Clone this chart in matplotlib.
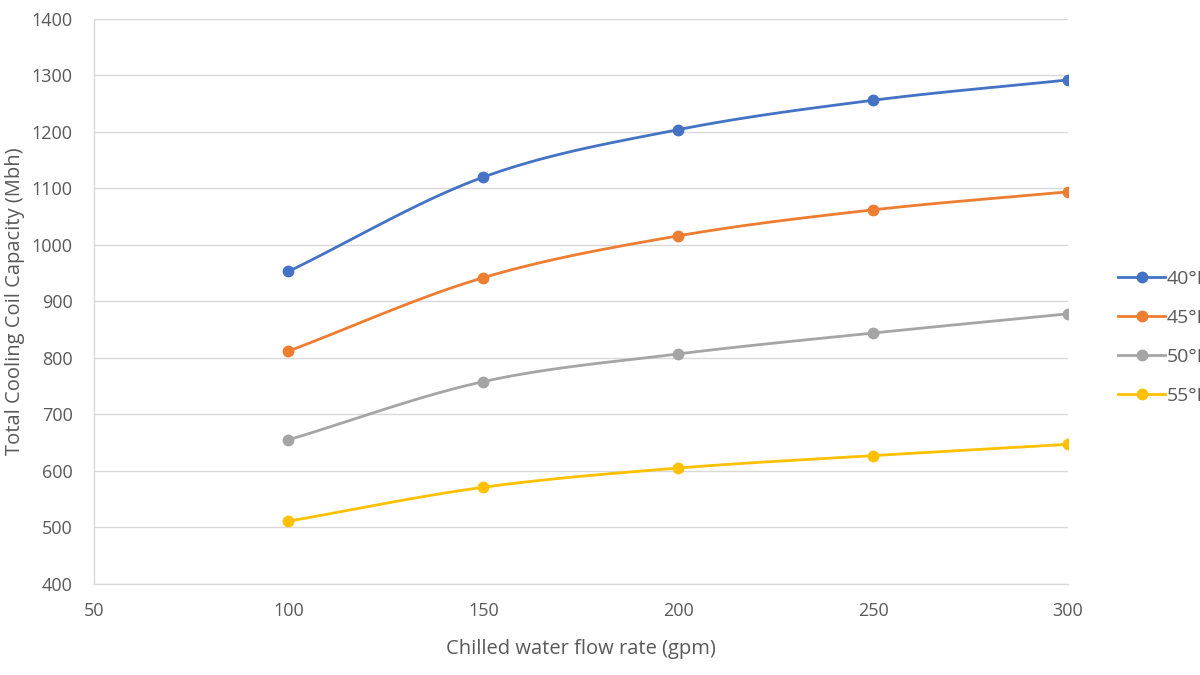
import numpy as np
import matplotlib
matplotlib.use("Agg")
import matplotlib.pyplot as plt
from matplotlib.lines import Line2D

flow = [100, 150, 200, 250, 300]
labels = ["40°F", "45°F", "50°F", "55°F"]
cap_40 = [953, 1120, 1204, 1256, 1292]
cap_45 = [812, 942, 1016, 1062, 1094]
cap_50 = [655, 758, 807, 844, 878]
cap_55 = [511, 571, 605, 627, 647]
series = [cap_40, cap_45, cap_50, cap_55]
colors = ["#4472C4", "#ED7D31", "#A5A5A5", "#FFC000"]

plt.rcParams['font.family'] = ['Open Sans', 'DejaVu Sans']

def smooth(x, y, n=30):
    # Catmull-Rom spline through points (Excel-like smoothed line)
    x = np.asarray(x, float); y = np.asarray(y, float)
    px = np.concatenate([[2*x[0]-x[1]], x, [2*x[-1]-x[-2]]])
    py = np.concatenate([[2*y[0]-y[1]], y, [2*y[-1]-y[-2]]])
    xs, ys = [], []
    t = np.linspace(0, 1, n)
    for i in range(1, len(px)-2):
        for arr, out in ((px, xs), (py, ys)):
            p0, p1, p2, p3 = arr[i-1], arr[i], arr[i+1], arr[i+2]
            out.extend(0.5*((2*p1) + (-p0+p2)*t + (2*p0-5*p1+4*p2-p3)*t**2 + (-p0+3*p1-3*p2+p3)*t**3))
    return np.array(xs), np.array(ys)

fig = plt.figure(figsize=(12, 6.75), dpi=100)
ax = fig.add_axes([0.078, 0.135, 0.812, 0.837])

handles = []
for ys, c, lab in zip(series, colors, labels):
    sx, sy = smooth(flow, ys)
    ax.plot(sx, sy, color=c, lw=2, zorder=3, solid_capstyle='round')
    ax.plot(flow, ys, 'o', color=c, ms=7.5, zorder=4)
    handles.append(Line2D([0], [0], color=c, lw=2, marker='o', ms=7.5, label=lab))

ax.set_xlim(50, 300)
ax.set_ylim(400, 1400)
ax.set_xticks([50, 100, 150, 200, 250, 300])
ax.set_yticks(range(400, 1401, 100))
ax.grid(axis='y', color='#D9D9D9', lw=1)
ax.set_axisbelow(True)
for s in ['top', 'right']:
    ax.spines[s].set_visible(False)
for s in ['left', 'bottom']:
    ax.spines[s].set_color('#D9D9D9')
    ax.spines[s].set_linewidth(1)
ax.tick_params(length=0, labelsize=13, colors='#595959')
ax.tick_params(axis='y', pad=15)
ax.tick_params(axis='x', pad=13)
ax.set_xlabel("Chilled water flow rate (gpm)", fontsize=14.5, color='#595959', labelpad=14)
ax.set_ylabel("Total Cooling Coil Capacity (Mbh)", fontsize=14.5, color='#595959', labelpad=5)

fig.legend(handles=handles, loc='center left', bbox_to_anchor=(0.932, 0.5),
           frameon=False, fontsize=14, labelcolor='#595959', handlelength=2.4,
           handletextpad=0.1, labelspacing=1.07, borderaxespad=0, borderpad=0)

fig.savefig("out.png", dpi=100)
